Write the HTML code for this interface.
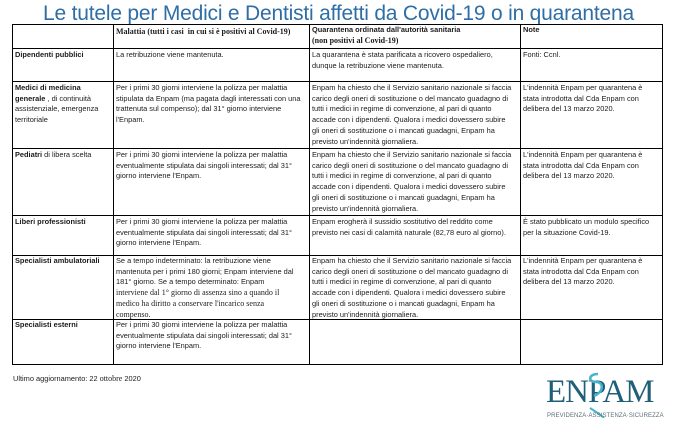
<!DOCTYPE html>
<html><head><meta charset="utf-8"><style>
body{margin:0;width:677px;height:435px;background:#fff;position:relative;overflow:hidden;font-family:"Liberation Sans",sans-serif;color:#1b1b1b}
.t{position:absolute;left:0;width:677px;top:2px;text-align:center;font-size:21px;color:#2e6ea6;letter-spacing:-0.2px}
.c{position:absolute;font-size:7.4px;line-height:10.7px;white-space:nowrap}
.b{font-weight:bold}
.s{font-family:"Liberation Serif",serif;font-size:8px}
.h{position:absolute;background:#000;height:1.3px;left:12px;width:651px}
.v{position:absolute;background:#000;width:1.3px;top:24px;height:341px}
</style></head><body>
<div class="t">Le tutele per Medici e Dentisti affetti da Covid-19 o in quarantena</div>
<div class="h" style="top:24px"></div><div class="h" style="top:48px"></div><div class="h" style="top:81px"></div><div class="h" style="top:148px"></div><div class="h" style="top:215px"></div><div class="h" style="top:255px"></div><div class="h" style="top:319px"></div><div class="h" style="top:364px"></div>
<div class="v" style="left:12px"></div><div class="v" style="left:113px"></div><div class="v" style="left:309px"></div><div class="v" style="left:520px"></div><div class="v" style="left:662px"></div>

<div class="c b s" style="left:116px;top:27px">Malattia (tutti i casi&nbsp; in cui si è positivi al Covid-19)</div>
<div class="c b" style="left:312px;top:25px">Quarantena ordinata dall'autorità sanitaria<br><span class="s">(non positivi al Covid-19)</span></div>
<div class="c b" style="left:523px;top:25px">Note</div>

<div class="c b" style="left:15px;top:50px">Dipendenti pubblici</div>
<div class="c" style="left:116px;top:50px">La retribuzione viene mantenuta.</div>
<div class="c" style="left:312px;top:50px">La quarantena è stata parificata a ricovero ospedaliero,<br>dunque la retribuzione viene mantenuta.</div>
<div class="c" style="left:523px;top:50px">Fonti: Ccnl.</div>

<div class="c" style="left:15px;top:83px"><b>Medici di medicina<br>generale</b> , di continuità<br>assistenziale, emergenza<br>territoriale</div>
<div class="c" style="left:116px;top:83px">Per i primi 30 giorni interviene la polizza per malattia<br>stipulata da Enpam (ma pagata dagli interessati con una<br>trattenuta sul compenso); dal 31° giorno interviene<br>l'Enpam.</div>
<div class="c" style="left:312px;top:83px">Enpam ha chiesto che il Servizio sanitario nazionale si faccia<br>carico degli oneri di sostituzione o del mancato guadagno di<br>tutti i medici in regime di convenzione, al pari di quanto<br>accade con i dipendenti. Qualora i medici dovessero subire<br>gli oneri di sostituzione o i mancati guadagni, Enpam ha<br>previsto un'indennità giornaliera.</div>
<div class="c" style="left:523px;top:83px">L'indennità Enpam per quarantena è<br>stata introdotta dal Cda Enpam con<br>delibera del 13 marzo 2020.</div>

<div class="c" style="left:15px;top:150px"><b>Pediatri</b> di libera scelta</div>
<div class="c" style="left:116px;top:150px">Per i primi 30 giorni interviene la polizza per malattia<br>eventualmente stipulata dai singoli interessati; dal 31°<br>giorno interviene l'Enpam.</div>
<div class="c" style="left:312px;top:150px">Enpam ha chiesto che il Servizio sanitario nazionale si faccia<br>carico degli oneri di sostituzione o del mancato guadagno di<br>tutti i medici in regime di convenzione, al pari di quanto<br>accade con i dipendenti. Qualora i medici dovessero subire<br>gli oneri di sostituzione o i mancati guadagni, Enpam ha<br>previsto un'indennità giornaliera.</div>
<div class="c" style="left:523px;top:150px">L'indennità Enpam per quarantena è<br>stata introdotta dal Cda Enpam con<br>delibera del 13 marzo 2020.</div>

<div class="c b" style="left:15px;top:217px">Liberi professionisti</div>
<div class="c" style="left:116px;top:217px">Per i primi 30 giorni interviene la polizza per malattia<br>eventualmente stipulata dai singoli interessati; dal 31°<br>giorno interviene l'Enpam.</div>
<div class="c" style="left:312px;top:217px">Enpam erogherà il sussidio sostitutivo del reddito come<br>previsto nei casi di calamità naturale (82,78 euro al giorno).</div>
<div class="c" style="left:523px;top:217px">È stato pubblicato un modulo specifico<br>per la situazione Covid-19.</div>

<div class="c b" style="left:15px;top:256px">Specialisti ambulatoriali</div>
<div class="c" style="left:116px;top:256px">Se a tempo indeterminato: la retribuzione viene<br>mantenuta per i primi 180 giorni; Enpam interviene dal<br>181° giorno. Se a tempo determinato: Enpam<br><span class="s">interviene dal 1° giorno di assenza sino a quando il<br>medico ha diritto a conservare l'incarico senza<br>compenso.</span></div>
<div class="c" style="left:312px;top:256px">Enpam ha chiesto che il Servizio sanitario nazionale si faccia<br>carico degli oneri di sostituzione o del mancato guadagno di<br>tutti i medici in regime di convenzione, al pari di quanto<br>accade con i dipendenti. Qualora i medici dovessero subire<br>gli oneri di sostituzione o i mancati guadagni, Enpam ha<br>previsto un'indennità giornaliera.</div>
<div class="c" style="left:523px;top:256px">L'indennità Enpam per quarantena è<br>stata introdotta dal Cda Enpam con<br>delibera del 13 marzo 2020.</div>

<div class="c b" style="left:15px;top:320px">Specialisti esterni</div>
<div class="c" style="left:116px;top:320px">Per i primi 30 giorni interviene la polizza per malattia<br>eventualmente stipulata dai singoli interessati; dal 31°<br>giorno interviene l'Enpam.</div>

<div class="c" style="left:13px;top:374px">Ultimo aggiornamento: 22 <span class="s">ottobre</span> 2020</div>

<div style="position:absolute;left:546px;top:375px;font-family:'Liberation Serif',serif;font-size:33px;line-height:34px;color:#1f5f78;letter-spacing:-1px">ENPAM</div>
<svg style="position:absolute;left:560px;top:368px" width="60" height="50"><path d="M38 6 C28 6 28 14 36 14 C44 14 44 24 34 28" stroke="#49b3c9" stroke-width="2.5" fill="none"/><path d="M30 40 C36 44 40 46 44 50" stroke="#49b3c9" stroke-width="2" fill="none"/></svg>
<div style="position:absolute;left:547px;top:413px;font-size:6px;color:#5a6f7a;letter-spacing:0.1px">PREVIDENZA·ASSISTENZA·SICUREZZA</div>
</body></html>
